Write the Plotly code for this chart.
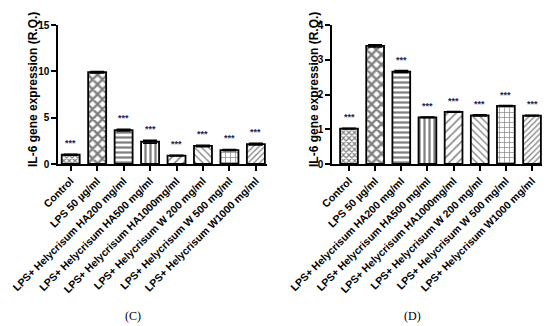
import plotly.graph_objects as go

categories = ["Control", "LPS 50 µg/ml", "LPS+ Helycrisum HA200 mg/ml",
              "LPS+ Helycrisum HA500 mg/ml", "LPS+ Helycrisum HA1000mg/ml",
              "LPS+ Helycrisum W 200 mg/ml", "LPS+ Helycrisum W 500 mg/ml",
              "LPS+ Helycrisum W1000 mg/ml"]
values_c = [1.0, 9.9, 3.65, 2.4, 0.9, 1.95, 1.5, 2.15]
errors_c = [0.05, 0.08, 0.1, 0.15, 0.05, 0.08, 0.07, 0.1]
values_d = [1.02, 3.4, 2.66, 1.34, 1.5, 1.4, 1.67, 1.39]
errors_d = [0.01, 0.03, 0.03, 0.01, 0.01, 0.02, 0.01, 0.01]
stars = ["***", "", "***", "***", "***", "***", "***", "***"]
yticks_c = [0, 5, 10, 15]
yticks_d = [0, 1, 2, 3, 4]
panel_labels = ["(C)", "(D)"]
y_title = "IL-6 gene expression (R.Q.)"

shapes = ["x", "x", "-", "|", "/", "\\", "+", "/"]
sizes = [4, 7, 5, 5, 6, 5, 5, 4]
solid = [0.5, 0.55, 0.45, 0.45, 0.25, 0.25, 0.25, 0.3]

# page body has an 8px margin: work in figure pixels = reference pixels - 8
W, H, OFF = 542, 318, 8
def px(x):
    return (x - OFF) / W
def py(y):
    return 1 - (y - OFF) / H

fig = go.Figure()
xidx = list(range(len(categories)))

for vals, errs, xa, ya in [(values_c, errors_c, "x", "y"), (values_d, errors_d, "x2", "y2")]:
    fig.add_trace(go.Bar(
        x=xidx, y=vals, xaxis=xa, yaxis=ya, width=0.68,
        error_y=dict(type="data", array=errs, visible=True, color="black",
                     thickness=1.5, width=7),
        marker=dict(color="white", line=dict(color="black", width=1.8),
                    pattern=dict(shape=shapes, size=sizes, solidity=solid,
                                 fgcolor="black", bgcolor="white", fillmode="overlay")),
        showlegend=False))

axis_common = dict(showline=True, linecolor="black", linewidth=1.5, ticks="outside",
                   ticklen=5, tickwidth=1.5, tickcolor="black", showgrid=False,
                   zeroline=False, automargin=False)
xt = dict(tickmode="array", tickvals=xidx, ticktext=categories, tickangle=-45,
          ticklabeloverflow="allow",
          tickfont=dict(family="Liberation Sans", size=10.5, color="black", weight="bold"))
ytf = dict(family="Liberation Sans", size=10, color="black", weight="bold")

fig.update_layout(
    width=W, height=H, margin=dict(l=0, r=0, t=0, b=0, pad=0, autoexpand=False),
    paper_bgcolor="white", plot_bgcolor="white", showlegend=False,
    xaxis=dict(domain=[px(58), px(267)], range=[-0.48, 7.42], anchor="y", **axis_common, **xt),
    xaxis2=dict(domain=[px(332), px(543)], range=[-0.65, 7.42], anchor="y2", **axis_common, **xt),
    yaxis=dict(domain=[py(164), py(25)], range=[0, 15], tickvals=yticks_c, anchor="x",
               tickfont=ytf, **axis_common),
    yaxis2=dict(domain=[py(164), py(25)], range=[0, 4], tickvals=yticks_d, anchor="x2",
                tickfont=ytf, **axis_common),
)

anns = []
for vals, errs, xa, ya in [(values_c, errors_c, "x", "y"), (values_d, errors_d, "x2", "y2")]:
    for i, s in enumerate(stars):
        if s:
            anns.append(dict(x=i, y=vals[i] + errs[i], xref=xa, yref=ya, text=s,
                             showarrow=False, xanchor="center", yanchor="middle", yshift=11,
                             font=dict(family="Liberation Sans", size=9, color="#1a2550",
                                       weight="bold")))
for xr in [33, 314]:
    anns.append(dict(x=px(xr), y=py(90), xref="paper", yref="paper", text=y_title,
                     textangle=-90, showarrow=False, xanchor="center", yanchor="middle",
                     font=dict(family="Liberation Sans", size=12, color="black", weight="bold")))
for xr, lab in zip([133, 412], panel_labels):
    anns.append(dict(x=px(xr), y=py(316), xref="paper", yref="paper", text=lab,
                     showarrow=False, xanchor="center", yanchor="middle",
                     font=dict(family="Liberation Serif", size=12, color="black")))
fig.update_layout(annotations=anns)

fig.write_html("out.html")
